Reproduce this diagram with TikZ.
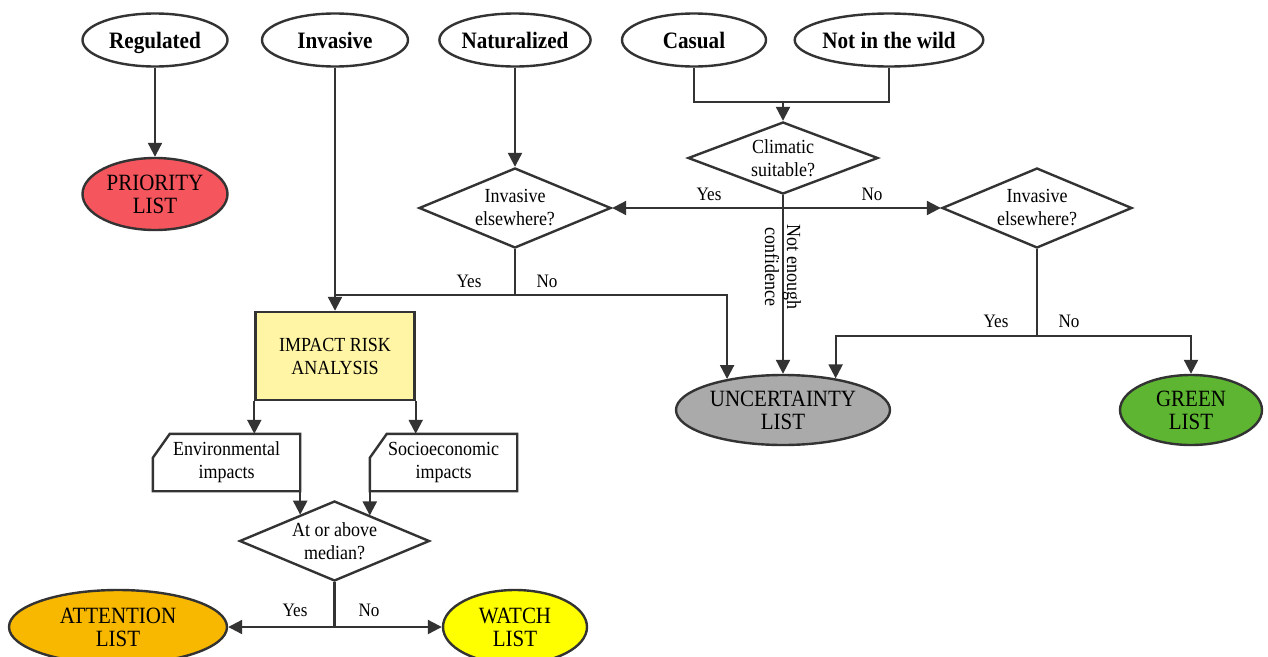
\documentclass[tikz,border=0pt]{standalone}
\usepackage{fontspec}
\setmainfont[FakeStretch=0.9]{Liberation Serif}
\usetikzlibrary{shapes.geometric,arrows.meta,calc}
\definecolor{ln}{HTML}{333333}
\definecolor{cred}{HTML}{F5555D}
\definecolor{cyel}{HTML}{FFF5A5}
\definecolor{cgray}{HTML}{AAAAAA}
\definecolor{cgreen}{HTML}{5DB531}
\definecolor{corange}{HTML}{F9B800}
\definecolor{cwatch}{HTML}{FFFF00}
\begin{document}
\begin{tikzpicture}[x=1pt,y=-1pt,
  every node/.style={text=black},
  arr/.style={draw=ln,line width=2.2pt,-{Triangle[length=14pt,width=14pt]}},
  conn/.style={draw=ln,line width=2.2pt},
  topel/.style={ellipse,draw=ln,line width=2.4pt,fill=white,inner sep=0pt,minimum height=53pt,text height=19pt,text depth=3pt,font=\bfseries\fontsize{23.5}{24}\selectfont},
  lst/.style={ellipse,draw=ln,line width=2.4pt,inner sep=0pt,align=center,font=\fontsize{23.3}{23}\selectfont},
  dia/.style={diamond,draw=ln,line width=2.4pt,aspect=2.4,inner sep=0pt,align=center,font=\fontsize{20}{23}\selectfont},
  doc/.style={inner sep=0pt,align=center,minimum width=147pt,minimum height=57pt,font=\fontsize{20}{23}\selectfont},
  lbl/.style={font=\fontsize{19}{20}\selectfont,inner sep=0pt}
]
\useasboundingbox (0,0) rectangle (1268,656);

% top categories
\node[topel,minimum width=145pt] (reg) at (155,40) {Regulated};
\node[topel,minimum width=146pt] (inv) at (335,40) {Invasive};
\node[topel,minimum width=144pt] (nat) at (515,40) {Naturalized};
\node[topel,minimum width=144pt] (cas) at (694,40) {Casual};
\node[topel,minimum width=179pt] (nw) at (889,40) {Not in the wild};

% lists
\node[lst,fill=cred,minimum width=145pt,minimum height=72pt] (pri) at (155,194) {PRIORITY\\LIST};
\node[lst,fill=cgray,minimum width=214pt,minimum height=70pt] (unc) at (783,410) {UNCERTAINTY\\LIST};
\node[lst,fill=cgreen,minimum width=142pt,minimum height=70pt] (grn) at (1191,410) {GREEN\\LIST};
\node[lst,fill=corange,minimum width=218pt,minimum height=74pt] (att) at (118,627) {ATTENTION\\LIST};
\node[lst,fill=cwatch,minimum width=144pt,minimum height=74pt] (wat) at (515,627) {WATCH\\LIST};

% decisions
\node[dia,minimum width=192pt,minimum height=80pt] (d1) at (515,208) {Invasive\\elsewhere?};
\node[dia,minimum width=190pt,minimum height=72pt] (clim) at (783,158) {Climatic\\suitable?};
\node[dia,minimum width=190pt,minimum height=80pt] (d2) at (1037,208) {Invasive\\elsewhere?};
\node[dia,minimum width=190pt,minimum height=80pt] (med) at (334.5,541) {At or above\\median?};

% impact analysis
\node[draw=ln,line width=2.4pt,fill=cyel,minimum width=159pt,minimum height=88pt,inner sep=0pt,align=center,font=\fontsize{20}{23}\selectfont] (imp) at (335,356) {IMPACT RISK\\ANALYSIS};

\node[doc] (env) at (226.5,462.5) {Environmental\\impacts};
\draw[draw=ln,line width=2.4pt] ($(env.north west)+(0pt,-24pt)$) -- ($(env.north west)+(17pt,0pt)$) -- (env.north east) -- (env.south east) -- (env.south west) -- cycle;
\node[doc] (soc) at (443.5,462.5) {Socioeconomic\\impacts};
\draw[draw=ln,line width=2.4pt] ($(soc.north west)+(0pt,-24pt)$) -- ($(soc.north west)+(17pt,0pt)$) -- (soc.north east) -- (soc.south east) -- (soc.south west) -- cycle;

% connectors
\draw[arr] (reg.south) -- (pri.north);
\draw[arr] (inv.south) -- (imp.north);
\draw[arr] (nat.south) -- (d1.north);

\coordinate (j) at (783,102);
\draw[conn] (cas.south) -- (cas.south |- j) -- (nw.south |- j) -- (nw.south);
\draw[arr] (j) -- (clim.north);

\coordinate (cy) at (783,208);
\draw[conn] (clim.south) -- (cy);
\draw[arr] (cy) -- (d1.east);
\draw[arr] (cy) -- (d2.west);
\draw[arr] (cy) -- (unc.north);
\node[lbl] (ly1) at (709,194) {Yes};
\node[lbl] (ln1) at (872,194) {No};
\node[rotate=-90,align=center,inner sep=0pt,font=\fontsize{20}{22}\selectfont] (nec) at (783,267) {Not enough\\confidence};

\coordinate (b1) at (515,295);
\draw[conn] (d1.south) -- (b1);
\draw[conn] (b1 -| inv.south) -- (b1);
\draw[arr] (b1) -| (unc.151.4);
\node[lbl] (ly2) at (469,281) {Yes};
\node[lbl] (ln2) at (547,281) {No};

\coordinate (b2) at (1037,336);
\draw[conn] (d2.south) -- (b2);
\draw[arr] (b2) -| (unc.31.1);
\draw[arr] (b2) -| (grn.north);
\node[lbl] (ly3) at (996,321) {Yes};
\node[lbl] (ln3) at (1069,321) {No};

\draw[arr] (imp.south west) -- (imp.south west |- env.north);
\draw[arr] (imp.south east) -- (imp.south east |- soc.north);
\draw[arr] (env.south east) -- (env.south east |- med.143.5);
\draw[arr] (soc.south west) -- (soc.south west |- med.35.2);

\coordinate (b3) at (334.5,627);
\draw[conn] (med.south) -- (b3);
\draw[arr] (b3) -- (att.east);
\draw[arr] (b3) -- (wat.west);
\node[lbl] (ly4) at (295,610) {Yes};
\node[lbl] (ln4) at (369,610) {No};
\end{tikzpicture}
\end{document}
